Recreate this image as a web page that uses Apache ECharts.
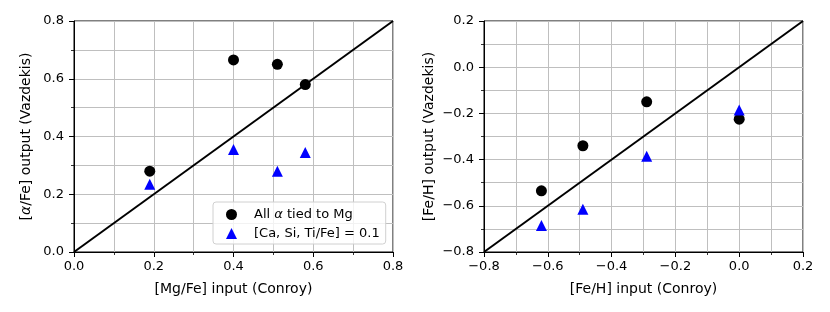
<!DOCTYPE html>
<html><head><meta charset="utf-8">
<script src="https://cdn.jsdelivr.net/npm/echarts@6/dist/echarts.min.js"></script>
<style>html,body{margin:0;padding:0;background:#fff}#c{width:830px;height:312px}</style>
</head><body><div id="c"></div>
<script>
// Left panel: [Mg/Fe]
const mgIn = [0.19, 0.40, 0.51, 0.58];
const alphaTiedMg = [0.28, 0.665, 0.65, 0.58];
const alphaFixed = [0.235, 0.355, 0.28, 0.345];
// Right panel: [Fe/H]
const feIn = [-0.62, -0.49, -0.29, 0.0];
const feTiedMg = [-0.535, -0.34, -0.15, -0.225];
const feFixed = [-0.685, -0.615, -0.385, -0.185];
// one-to-one lines
const oneToOneLeft = [[0, 0], [0.8, 0.8]];
const oneToOneRight = [[-0.8, -0.8], [0.2, 0.2]];
const leftRange = [0, 0.8];
const rightRange = [-0.8, 0.2];
const seriesNames = ['All α tied to Mg', '[Ca, Si, Ti/Fe] = 0.1'];

const FONT = 'DejaVu Sans';
const FS = 13;
const NFS = 14;
const fmt = v => (Math.abs(v) < 1e-9 ? 0 : v).toFixed(1).replace('-', '\u2212');
const zip = (a, b) => a.map((v, i) => [v, b[i]]);

function axis(idx, range, name, isY, gap) {
  return {
    type: 'value', gridIndex: idx, min: range[0], max: range[1], interval: 0.2,
    name: name, nameLocation: 'middle', nameGap: gap,
    nameTextStyle: {fontFamily: FONT, fontSize: NFS, color: '#000',
      rich: {i: {fontFamily: FONT, fontSize: NFS, fontStyle: 'italic', color: '#000'}}},
    axisLine: {show: true, onZero: false, lineStyle: {color: '#000', width: 1}},
    axisTick: {show: true, length: 5, lineStyle: {color: '#000', width: 1}},
    minorTick: {show: true, splitNumber: 2, length: 3, lineStyle: {color: '#000', width: 0.8}},
    splitLine: {show: true, lineStyle: {color: '#bfbfbf', width: 1}},
    minorSplitLine: {show: true, lineStyle: {color: '#bfbfbf', width: 1}},
    axisLabel: {formatter: fmt, fontFamily: FONT, fontSize: FS, color: '#000', margin: isY ? 10 : 8}
  };
}

const chart = echarts.init(document.getElementById('c'));
chart.setOption({
  animation: false,
  grid: [
    {left: 74, right: 437, top: 21, bottom: 60, show: true, borderColor: '#000', borderWidth: 1},
    {left: 484, right: 27, top: 21, bottom: 60, show: true, borderColor: '#000', borderWidth: 1}
  ],
  xAxis: [axis(0, leftRange, '[Mg/Fe] input (Conroy)', false, 30), axis(1, rightRange, '[Fe/H] input (Conroy)', false, 30)],
  yAxis: [axis(0, leftRange, '[{i|α}/Fe] output (Vazdekis)', true, 41), axis(1, rightRange, '[Fe/H] output (Vazdekis)', true, 48)],
  legend: {
    left: 213, top: 202, orient: 'vertical', itemGap: 6, itemWidth: 11, itemHeight: 11,
    padding: [6, 6, 4, 13],
    borderColor: '#d0d0d0', borderWidth: 1, borderRadius: 3, backgroundColor: 'rgba(255,255,255,0.8)',
    data: [{name: seriesNames[0], icon: 'circle'}, {name: seriesNames[1], icon: 'triangle'}],
    formatter: n => n === seriesNames[0] ? 'All {i|α} tied to Mg' : n,
    textStyle: {fontFamily: FONT, fontSize: FS, color: '#000', padding: [0, 0, 0, 12],
      rich: {i: {fontFamily: FONT, fontSize: FS, fontStyle: 'italic', color: '#000', padding: [0, 0, 0, 0]}}}
  },
  series: [
    {type: 'line', xAxisIndex: 0, yAxisIndex: 0, data: oneToOneLeft, symbol: 'none', lineStyle: {color: '#000', width: 2}, z: 3},
    {type: 'line', xAxisIndex: 1, yAxisIndex: 1, data: oneToOneRight, symbol: 'none', lineStyle: {color: '#000', width: 2}, z: 3},
    {name: seriesNames[0], type: 'scatter', xAxisIndex: 0, yAxisIndex: 0, data: zip(mgIn, alphaTiedMg), symbol: 'circle', symbolSize: 11, itemStyle: {color: '#000', opacity: 1}, z: 4},
    {name: seriesNames[1], type: 'scatter', xAxisIndex: 0, yAxisIndex: 0, data: zip(mgIn, alphaFixed), symbol: 'triangle', symbolSize: [11, 11], itemStyle: {color: '#0000ff', opacity: 1}, z: 4},
    {name: seriesNames[0], type: 'scatter', xAxisIndex: 1, yAxisIndex: 1, data: zip(feIn, feTiedMg), symbol: 'circle', symbolSize: 11, itemStyle: {color: '#000', opacity: 1}, z: 4},
    {name: seriesNames[1], type: 'scatter', xAxisIndex: 1, yAxisIndex: 1, data: zip(feIn, feFixed), symbol: 'triangle', symbolSize: [11, 11], itemStyle: {color: '#0000ff', opacity: 1}, z: 4}
  ]
});
</script></body></html>
